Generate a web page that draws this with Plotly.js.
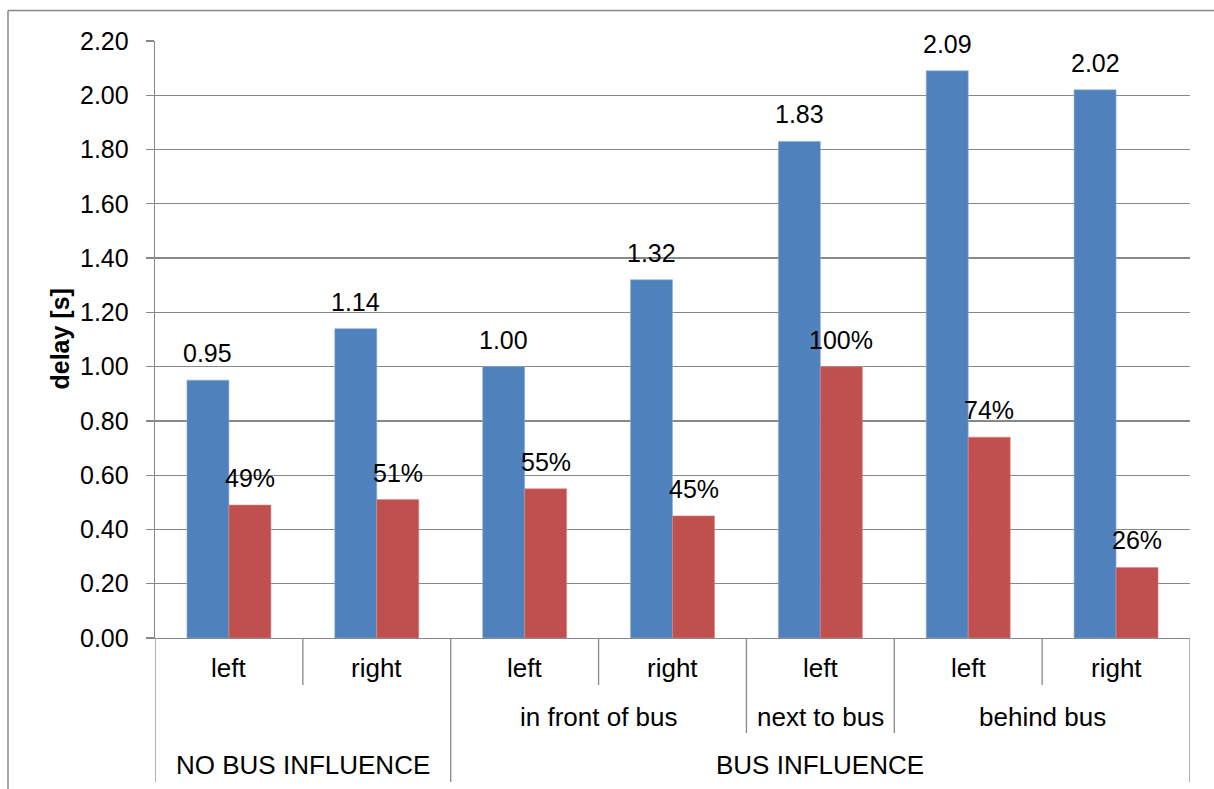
<!DOCTYPE html>
<html>
<head>
<meta charset="utf-8">
<script src="https://cdn.plot.ly/plotly-3.0.1.min.js"></script>
<style>
html,body{margin:0;padding:0;background:#fff;}
#chart{width:1214px;height:789px;}
</style>
</head>
<body>
<div id="chart"></div>
<script>
// ---- data ----
const level1Labels = ["left", "right", "left", "right", "left", "left", "right"];
const level2Groups = [
  {label: "", start: 0, end: 1},
  {label: "in front of bus", start: 2, end: 3},
  {label: "next to bus", start: 4, end: 4},
  {label: "behind bus", start: 5, end: 6}
];
const level3Groups = [
  {label: "NO BUS INFLUENCE", start: 0, end: 1},
  {label: "BUS INFLUENCE", start: 2, end: 6}
];
const delayValues = [0.95, 1.14, 1.00, 1.32, 1.83, 2.09, 2.02];
const shareValues = [0.49, 0.51, 0.55, 0.45, 1.00, 0.74, 0.26];
const yTitle = "delay [s]";

// ---- styling ----
const FONT = "Liberation Sans, Arial, sans-serif";
const GRID = "#888888";
const BLUE = "#4F81BD";
const RED = "#C0504D";
const FS_TICK = 25, FS_VAL = 25, FS_CAT = 26, FS_TITLE = 25;

const xs = level1Labels.map((_, i) => i);

const traces = [
  {type: "bar", x: xs, y: delayValues, marker: {color: BLUE, line: {color: "#8fb0d8", width: 0.6}},
   hoverinfo: "skip", showlegend: false},
  {type: "bar", x: xs, y: shareValues, marker: {color: RED, line: {color: "#d58886", width: 0.6}},
   hoverinfo: "skip", showlegend: false}
];

const plotH = 597;
const yp = px => -(px - 638) / plotH; // pixel row -> paper y (layout helper)
const xpp = px => (px - 155) / 1035;  // pixel column -> paper x (layout helper)
const lvl1Bottom = yp(685), lvl2Bottom = yp(733), lvl3Bottom = yp(782);

const annotations = [];
const bw = 0.284;
delayValues.forEach((v, i) => {
  annotations.push({x: i - bw / 2, y: v, xref: "x", yref: "y", text: v.toFixed(2),
    showarrow: false, yanchor: "middle", yshift: 27, font: {family: FONT, size: FS_VAL, color: "#000"}});
});
shareValues.forEach((v, i) => {
  annotations.push({x: i + bw / 2, y: v, xref: "x", yref: "y", text: Math.round(v * 100) + "%",
    showarrow: false, yanchor: "middle", yshift: 27, font: {family: FONT, size: FS_VAL, color: "#000"}});
});
level1Labels.forEach((t, i) => {
  annotations.push({x: i, y: yp(668), xref: "x", yref: "paper", text: t, showarrow: false,
    yanchor: "middle", font: {family: FONT, size: FS_CAT, color: "#000"}});
});
level2Groups.forEach(g => {
  if (!g.label) return;
  annotations.push({x: (g.start + g.end) / 2, y: yp(717), xref: "x", yref: "paper", text: g.label,
    showarrow: false, yanchor: "middle", font: {family: FONT, size: FS_CAT, color: "#000"}});
});
level3Groups.forEach(g => {
  annotations.push({x: (g.start + g.end) / 2, y: yp(765), xref: "x", yref: "paper", text: g.label,
    showarrow: false, yanchor: "middle", font: {family: FONT, size: FS_CAT, color: "#000"}});
});
annotations.push({x: xpp(59), y: 0.5, xref: "paper", yref: "paper", text: "<b>" + yTitle + "</b>",
  textangle: -90, showarrow: false, xanchor: "center", yanchor: "middle",
  font: {family: FONT, size: FS_TITLE, color: "#000"}});

// divider lines below axis
const shapes = [];
const n = level1Labels.length;
for (let k = 0; k <= n; k++) {
  let bottom = lvl1Bottom;
  if (level2Groups.some(g => g.start === k || g.end + 1 === k)) bottom = lvl2Bottom;
  if (level3Groups.some(g => g.start === k || g.end + 1 === k)) bottom = lvl3Bottom;
  shapes.push({type: "line", xref: "x", yref: "paper", x0: k - 0.5, x1: k - 0.5, y0: 0, y1: bottom,
    line: {color: GRID, width: 1.3}});
}
// outer chart border (top and left edges; right/bottom fall outside the picture)
shapes.push({type: "line", xref: "paper", yref: "paper", x0: xpp(8), x1: xpp(1240), y0: yp(10.5), y1: yp(10.5),
  line: {color: GRID, width: 1.5}});
shapes.push({type: "line", xref: "paper", yref: "paper", x0: xpp(8), x1: xpp(8), y0: yp(10.5), y1: yp(820),
  line: {color: GRID, width: 1.5}});

const layout = {
  width: 1214, height: 789,
  margin: {l: 155, r: 24, t: 41, b: 151},
  paper_bgcolor: "#fff", plot_bgcolor: "#fff",
  barmode: "group", bargap: 0.432, bargroupgap: 0,
  showlegend: false,
  font: {family: FONT, size: FS_TICK, color: "#000"},
  xaxis: {range: [-0.5, n - 0.5], showticklabels: false, showgrid: false, zeroline: false,
    showline: true, linecolor: GRID, linewidth: 1.3, ticks: "", fixedrange: true},
  yaxis: {range: [0, 2.2], dtick: 0.2, tick0: 0, tickformat: ".2f", showgrid: true, gridcolor: GRID,
    gridwidth: 1.3, zeroline: false, showline: true, linecolor: GRID, linewidth: 1.3,
    ticks: "outside", ticklen: 8, tickcolor: GRID, tickwidth: 1.3, ticklabelstandoff: 12,
    tickfont: {family: FONT, size: FS_TICK, color: "#000"}, fixedrange: true},
  annotations: annotations,
  shapes: shapes
};

Plotly.newPlot("chart", traces, layout, {staticPlot: true, displayModeBar: false});
</script>
</body>
</html>
